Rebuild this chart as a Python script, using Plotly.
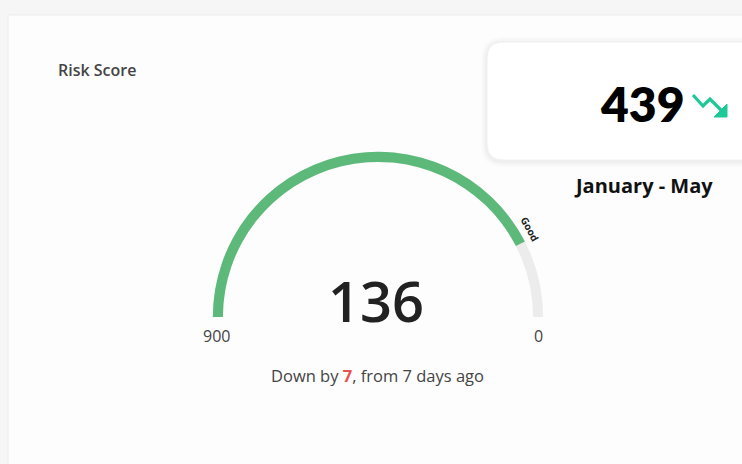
import plotly.graph_objects as go

W, H = 742, 464

# ---- data ----
score = 136
score_range = [900, 0]          # gauge runs from 900 (left) to 0 (right)
change_value = 7
change_days = 7
kpi_value = 439
kpi_period = "January - May"
zone_label = "Good"
title_text = "Risk Score"

GREEN = "#5cb97a"
GREY = "#ececec"
TEAL = "#1ec997"


def px(x):
    return x / W


def py(y):
    return 1 - y / H


fig = go.Figure()

fig.add_trace(go.Indicator(
    mode="gauge",
    value=score,
    domain=dict(x=[px(195), px(561)], y=[py(317), py(134)]),
    gauge=dict(
        shape="angular",
        axis=dict(range=score_range, visible=False),
        bar=dict(color=GREEN, thickness=0.22),
        bgcolor="rgba(0,0,0,0)",
        borderwidth=0,
        steps=[dict(range=[min(score_range), max(score_range)], color=GREY, thickness=0.22)],
    ),
))

shapes = []
# card
shapes.append(dict(type="rect", xref="paper", yref="paper", x0=px(8), x1=1.01, y0=-0.01, y1=py(15),
                   fillcolor="#fdfdfd", line=dict(color="#ececec", width=1), layer="below"))


def rounded(x0, x1, y0, y1, r):
    return (f"M {px(x0 + r)} {py(y0)} L {px(x1)} {py(y0)} L {px(x1)} {py(y1)} L {px(x0 + r)} {py(y1)} "
            f"Q {px(x0)} {py(y1)} {px(x0)} {py(y1 - r)} L {px(x0)} {py(y0 + r)} "
            f"Q {px(x0)} {py(y0)} {px(x0 + r)} {py(y0)} Z")


r = 16
for g, a in [(6, 0.012), (4, 0.018), (2, 0.025)]:
    shapes.append(dict(type="path", xref="paper", yref="paper",
                       path=rounded(487 - g, 760, 42 - g + 1, 160 + g + 1, r + g),
                       fillcolor=f"rgba(0,0,0,{a})", line=dict(width=0), layer="below"))
shapes.append(dict(type="path", xref="paper", yref="paper", path=rounded(487, 760, 42, 160, r),
                   fillcolor="#ffffff", line=dict(color="#f0f0f0", width=1), layer="below"))
# trend-down icon
zig = [(693, 95), (703, 106), (710, 99), (722, 111)]
p = "M " + " L ".join(f"{px(a)} {py(b)}" for a, b in zig)
shapes.append(dict(type="path", xref="paper", yref="paper", path=p,
                   line=dict(color=TEAL, width=3.2), layer="above"))
tri = [(727, 104), (727, 117), (714, 117)]
p2 = "M " + " L ".join(f"{px(a)} {py(b)}" for a, b in tri) + " Z"
shapes.append(dict(type="path", xref="paper", yref="paper", path=p2,
                   fillcolor=TEAL, line=dict(color=TEAL, width=1), layer="above"))

annotations = [
    dict(text=title_text, x=px(56), y=py(70), xanchor="left", yanchor="middle",
         font=dict(family="Open Sans", size=16, color="#444444", weight=600)),
    dict(text=str(score), x=px(376), y=py(300), xanchor="center", yanchor="middle",
         font=dict(family="Open Sans", size=56, color="#222222", weight=600)),
    dict(text=str(score_range[0]), x=px(216), y=py(336), xanchor="center", yanchor="middle",
         font=dict(family="Open Sans", size=16, color="#444444")),
    dict(text=str(score_range[1]), x=px(538), y=py(336), xanchor="center", yanchor="middle",
         font=dict(family="Open Sans", size=16, color="#444444")),
    dict(text=f"Down by <span style='color:#e8524f'><b>{change_value}</b></span>, from {change_days} days ago",
         x=px(377), y=py(375), xanchor="center", yanchor="middle",
         font=dict(family="Open Sans", size=16.5, color="#444444")),
    dict(text=f"<b>{zone_label}</b>", x=px(530), y=py(229), xanchor="center", yanchor="middle",
         textangle=62, font=dict(family="Open Sans", size=10, color="#222222")),
    dict(text=str(kpi_value), x=px(642), y=py(103), xanchor="center", yanchor="middle",
         font=dict(family="Lato", size=48, color="#000000", weight=800)),
    dict(text=kpi_period, x=px(643), y=py(185), xanchor="center", yanchor="middle",
         font=dict(family="Open Sans", size=20, color="#111111", weight=700)),
]
for a in annotations:
    a.update(xref="paper", yref="paper", showarrow=False)

fig.update_layout(
    width=W, height=H,
    margin=dict(l=0, r=0, t=0, b=0),
    paper_bgcolor="#f6f6f6",
    plot_bgcolor="#f6f6f6",
    shapes=shapes,
    annotations=annotations,
    showlegend=False,
)

fig.write_html("out.html", config={"displayModeBar": False},
               post_script="document.body.style.margin='0';document.body.style.overflow='hidden';")
